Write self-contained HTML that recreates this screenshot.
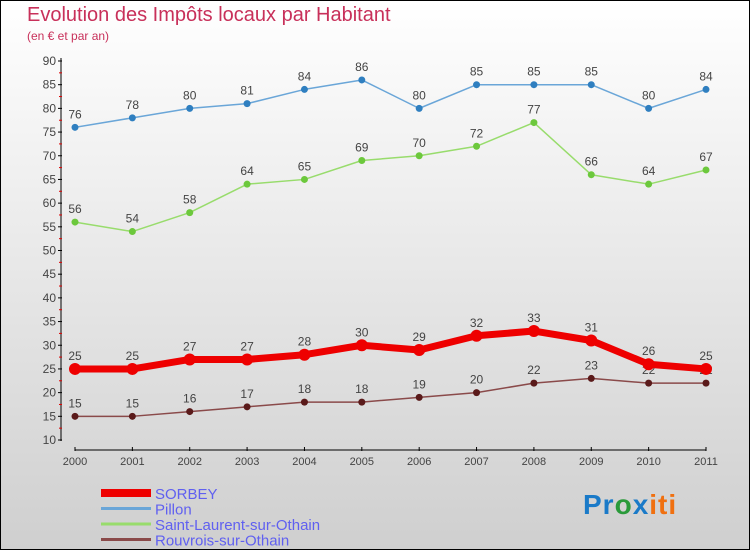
<!DOCTYPE html>
<html><head><meta charset="utf-8"><style>
body{margin:0}
#c{position:relative;width:750px;height:550px;box-sizing:border-box;border:1px solid #000;background:linear-gradient(#fff,#cfcfcf);font-family:"Liberation Sans",sans-serif;overflow:hidden}
.t{position:absolute;color:#c8305a}
</style></head><body>
<div id="c">
<div class="t" style="left:26px;top:3px;font-size:20px">Evolution des Impôts locaux par Habitant</div>
<div class="t" style="left:26px;top:28px;font-size:12px">(en € et par an)</div>
<svg id="s" width="750" height="550" style="position:absolute;left:-1px;top:-1px"></svg>
<div style="position:absolute;left:582px;top:488px;font-size:28px;font-weight:bold;letter-spacing:1px"><span style="color:#1a7ac8">Pr</span><span style="color:#2a9a3a">o</span><span style="color:#1a7ac8">x</span><span style="color:#f07010">iti</span></div>
</div>
<script>
const years=[2000,2001,2002,2003,2004,2005,2006,2007,2008,2009,2010,2011];
const sorbey=[25,25,27,27,28,30,29,32,33,31,26,25];
const pillon=[76,78,80,81,84,86,80,85,85,85,80,84];
const saintLaurent=[56,54,58,64,65,69,70,72,77,66,64,67];
const rouvrois=[15,15,16,17,18,18,19,20,22,23,22,22];
const yTicks=[10,15,20,25,30,35,40,45,50,55,60,65,70,75,80,85,90];
const series=[
 {name:'SORBEY',v:sorbey,c:'#ee0000',w:7,r:6,dot:'#ee0000'},
 {name:'Pillon',v:pillon,c:'#6aa6d8',w:1.5,r:3.5,dot:'#2f7fc0'},
 {name:'Saint-Laurent-sur-Othain',v:saintLaurent,c:'#98dc6c',w:1.5,r:3.5,dot:'#6cc83c'},
 {name:'Rouvrois-sur-Othain',v:rouvrois,c:'#8a4a4a',w:1.5,r:3.5,dot:'#5a1a1a'}];
const X=i=>75+i*(706-75)/(years.length-1);
const Y=v=>440-(v-10)*(440-61)/80;
const s=document.getElementById('s');const NS='http://www.w3.org/2000/svg';
function el(t,a,p){const e=document.createElementNS(NS,t);for(const k in a)e.setAttribute(k,a[k]);(p||s).appendChild(e);return e;}
let e=el('line',{x1:61,y1:58,x2:61,y2:441,stroke:'#000'});


e=el('line',{x1:75,y1:450,x2:706,y2:450,stroke:'#000'});


yTicks.forEach((t,i)=>{
 el('line',{x1:58,y1:Y(t),x2:62,y2:Y(t),stroke:'#000'});
 if(i<yTicks.length-1)el('line',{x1:59,y1:Y(t+2.5),x2:62,y2:Y(t+2.5),stroke:'#d00'});
 const tx=el('text',{x:56,y:Y(t)+4,'text-anchor':'end','font-size':12,fill:'#444'});tx.textContent=t;
 
 
});
years.forEach((y,i)=>{
 el('line',{x1:X(i),y1:447,x2:X(i),y2:451,stroke:'#000'});
 const tx=el('text',{x:X(i),y:465,'text-anchor':'middle','font-size':11,fill:'#444'});tx.textContent=y;
 
 
});
series.slice().reverse().forEach(sr=>{
 const g=el('g',{});
 
 
 el('polyline',{points:sr.v.map((v,i)=>X(i)+','+Y(v)).join(' '),fill:'none',stroke:sr.c,'stroke-width':sr.w,'stroke-linejoin':'round'},g);
 sr.v.forEach((v,i)=>{
  const c=el('circle',{cx:X(i),cy:Y(v),r:sr.r,fill:sr.dot},g);
  
  
  const t=el('text',{x:X(i),y:Y(v)-9,'text-anchor':'middle','font-size':12,fill:'#444'},g);t.textContent=v;
  
  
 });
});
series.forEach((sr,i)=>{
 const yy=493+i*15.5;
 const l=el('line',{x1:101,y1:yy,x2:151,y2:yy,stroke:sr.c,'stroke-width':i==0?8:3});
 
 
 const t=el('text',{x:155,y:yy+6,'font-size':15,fill:'#6060f0'});t.textContent=sr.name;
 
 
});
</script>
</body></html>
